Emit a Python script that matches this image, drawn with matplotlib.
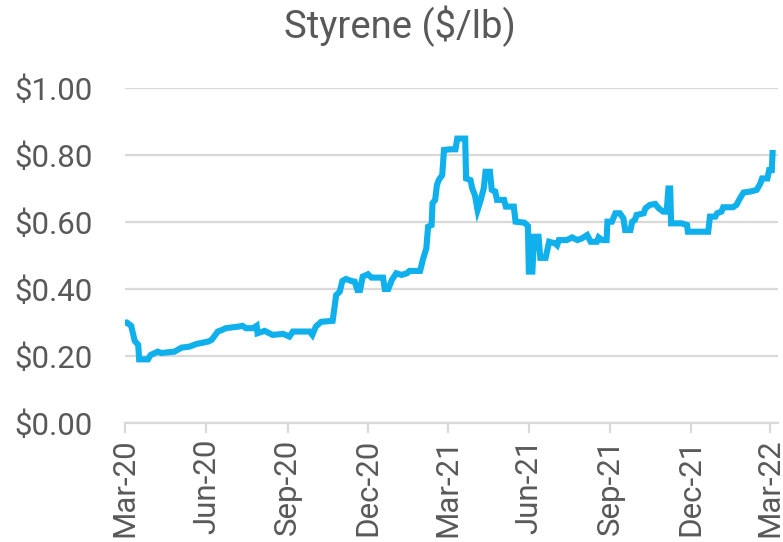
import pandas as pd
import matplotlib.pyplot as plt
import matplotlib.dates as mdates
from matplotlib.ticker import FuncFormatter

plt.rcParams['font.family'] = ['Roboto', 'DejaVu Sans']

dates = [
    '2020-03-01', '2020-03-03', '2020-03-08', '2020-03-12', '2020-03-16', '2020-03-17',
    '2020-03-27', '2020-03-30', '2020-04-07', '2020-04-11', '2020-04-26', '2020-05-04',
    '2020-05-13', '2020-05-21', '2020-06-03', '2020-06-07', '2020-06-14', '2020-06-19',
    '2020-06-23', '2020-07-08', '2020-07-12', '2020-07-16', '2020-07-24', '2020-07-28',
    '2020-07-29', '2020-08-06', '2020-08-15', '2020-08-27', '2020-09-03', '2020-09-07',
    '2020-09-26', '2020-09-29', '2020-10-03', '2020-10-09', '2020-10-22', '2020-10-26',
    '2020-10-30', '2020-11-02', '2020-11-06', '2020-11-12', '2020-11-16', '2020-11-19',
    '2020-11-22', '2020-11-25', '2020-12-01', '2020-12-05', '2020-12-18', '2020-12-20',
    '2020-12-24', '2020-12-28', '2021-01-02', '2021-01-08', '2021-01-14', '2021-01-17',
    '2021-01-29', '2021-02-01', '2021-02-05', '2021-02-07', '2021-02-11', '2021-02-12',
    '2021-02-15', '2021-02-17', '2021-02-19', '2021-02-23', '2021-02-25', '2021-03-04',
    '2021-03-10', '2021-03-12', '2021-03-21', '2021-03-22', '2021-03-27', '2021-03-29',
    '2021-04-01', '2021-04-04', '2021-04-07', '2021-04-11', '2021-04-13', '2021-04-18',
    '2021-04-20', '2021-04-24', '2021-04-26', '2021-05-04', '2021-05-06', '2021-05-15',
    '2021-05-17', '2021-05-27', '2021-05-31', '2021-06-01', '2021-06-05', '2021-06-07',
    '2021-06-12', '2021-06-14', '2021-06-20', '2021-06-24', '2021-07-01', '2021-07-03',
    '2021-07-05', '2021-07-14', '2021-07-20', '2021-07-26', '2021-07-31', '2021-08-06',
    '2021-08-10', '2021-08-17', '2021-08-19', '2021-08-23', '2021-08-28', '2021-08-29',
    '2021-09-03', '2021-09-07', '2021-09-12', '2021-09-16', '2021-09-18', '2021-09-24',
    '2021-09-26', '2021-09-29', '2021-10-01', '2021-10-09', '2021-10-11', '2021-10-16',
    '2021-10-22', '2021-10-26', '2021-10-31', '2021-11-04', '2021-11-06', '2021-11-08',
    '2021-11-09', '2021-11-21', '2021-11-27', '2021-11-28', '2021-12-21', '2021-12-23',
    '2021-12-29', '2021-12-31', '2022-01-05', '2022-01-07', '2022-01-18', '2022-01-22',
    '2022-01-26', '2022-01-30', '2022-02-07', '2022-02-14', '2022-02-18', '2022-02-20',
    '2022-02-26', '2022-02-28', '2022-03-03', '2022-03-04',
]
prices = [
    0.300, 0.300, 0.290, 0.245, 0.233, 0.190,
    0.190, 0.203, 0.213, 0.209, 0.213, 0.225,
    0.228, 0.236, 0.243, 0.248, 0.273, 0.278,
    0.283, 0.288, 0.290, 0.283, 0.283, 0.290,
    0.268, 0.275, 0.263, 0.266, 0.258, 0.273,
    0.273, 0.263, 0.288, 0.302, 0.305, 0.382,
    0.392, 0.424, 0.430, 0.424, 0.422, 0.397,
    0.397, 0.437, 0.444, 0.434, 0.434, 0.400,
    0.400, 0.427, 0.447, 0.442, 0.447, 0.454,
    0.454, 0.487, 0.521, 0.586, 0.591, 0.656,
    0.666, 0.710, 0.725, 0.740, 0.815, 0.817,
    0.817, 0.849, 0.849, 0.730, 0.725, 0.700,
    0.680, 0.636, 0.661, 0.700, 0.750, 0.750,
    0.696, 0.691, 0.666, 0.666, 0.646, 0.646,
    0.601, 0.598, 0.588, 0.452, 0.452, 0.556,
    0.556, 0.493, 0.493, 0.541, 0.536, 0.531,
    0.546, 0.546, 0.554, 0.546, 0.551, 0.561,
    0.541, 0.541, 0.554, 0.546, 0.546, 0.601,
    0.601, 0.626, 0.626, 0.611, 0.576, 0.576,
    0.601, 0.606, 0.621, 0.626, 0.641, 0.651,
    0.654, 0.641, 0.631, 0.631, 0.700, 0.700,
    0.596, 0.596, 0.591, 0.571, 0.571, 0.616,
    0.616, 0.626, 0.631, 0.644, 0.644, 0.651,
    0.671, 0.688, 0.691, 0.696, 0.715, 0.730,
    0.730, 0.755, 0.755, 0.815,
]

df = pd.DataFrame({'date': pd.to_datetime(dates), 'price': prices})

text_color = '#595959'
grid_color = '#d9d9d9'

fig = plt.figure(figsize=(7.83, 5.42), dpi=100)
ax = fig.add_axes([125 / 783, 1 - 423 / 542, 653 / 783, 335 / 542])

ax.plot(df['date'], df['price'], color='#0fb0ec', linewidth=4.4,
        solid_joinstyle='miter', solid_capstyle='butt')

ax.set_ylim(0, 1.0)
ax.set_xlim(pd.Timestamp('2020-03-01'), pd.Timestamp('2022-03-10'))
ax.set_yticks([0, 0.2, 0.4, 0.6, 0.8, 1.0])
ax.yaxis.set_major_formatter(FuncFormatter(lambda v, p: f'${v:.2f}'))
ax.xaxis.set_major_locator(mdates.MonthLocator(bymonth=[3, 6, 9, 12]))
ax.xaxis.set_major_formatter(mdates.DateFormatter('%b-%y'))

ax.grid(axis='y', color=grid_color, linewidth=1.6)
ax.set_axisbelow(True)
for s in ['top', 'right', 'left']:
    ax.spines[s].set_visible(False)
ax.spines['bottom'].set_color(grid_color)
ax.spines['bottom'].set_linewidth(1.6)

ax.tick_params(axis='y', length=0, pad=23, labelsize=22.5, labelcolor=text_color)
ax.tick_params(axis='x', length=7, width=1.6, color=grid_color, pad=4,
               labelsize=22.5, labelcolor=text_color, labelrotation=90)

fig.suptitle('Styrene ($/lb)', x=0.511, y=0.99, fontsize=27.5, color=text_color, va='top')

fig.savefig('out.png', dpi=100)
